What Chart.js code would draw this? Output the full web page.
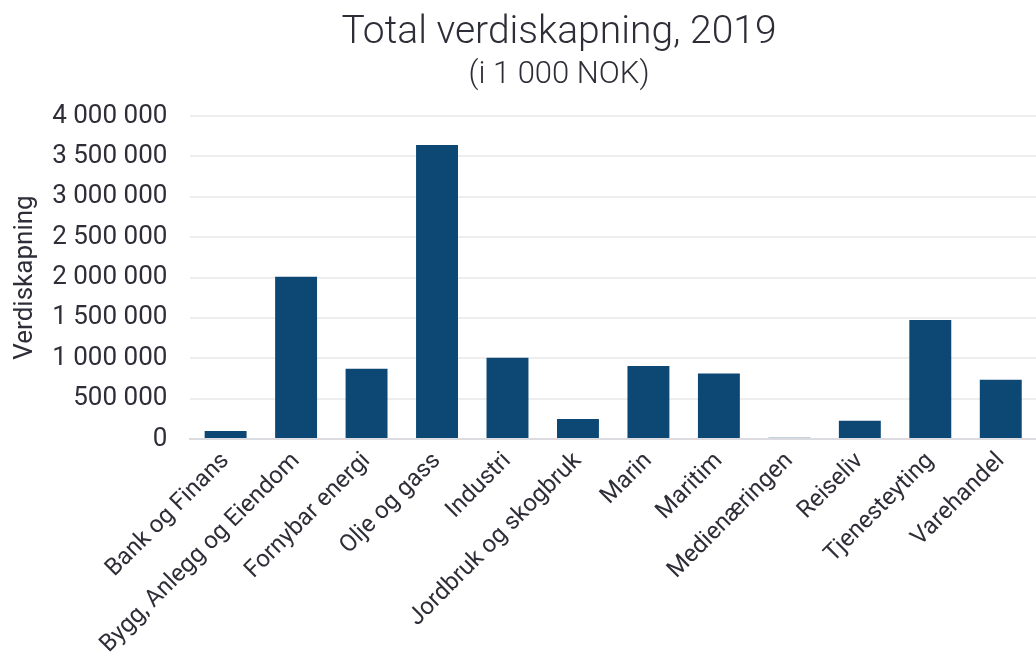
<!DOCTYPE html>
<html>
<head>
<meta charset="utf-8">
<script src="https://cdn.jsdelivr.net/npm/chart.js@4"></script>
<style>
    html, body { margin: 0; padding: 0; background: #ffffff; }
    #wrap { width: 1036px; height: 667px; }
</style>
</head>
<body>
<div id="wrap"><canvas id="myChart"></canvas></div>
<script>
const BAR_BLUE = '#0d4773';
const TEXT = '#2e2e38';
const GRID = '#eeeeee';
const SANS = "Roboto, 'Noto Sans', sans-serif";

// data (1 000 NOK)
const categories = [
    'Bank og Finans', 'Bygg, Anlegg og Eiendom', 'Fornybar energi', 'Olje og gass',
    'Industri', 'Jordbruk og skogbruk', 'Marin', 'Maritim',
    'Medienæringen', 'Reiseliv', 'Tjenesteyting', 'Varehandel'
];
const values = [
    100000, 2010000, 870000, 3640000,
    1005000, 248000, 905000, 810000,
    16000, 225000, 1475000, 735000
];
const yTicks = [0, 500000, 1000000, 1500000, 2000000, 2500000, 3000000, 3500000, 4000000];

const TITLE = 'Total verdiskapning, 2019';
const SUBTITLE = '(i 1 000 NOK)';

function formatNumber(v) {
    return String(v).replace(/\B(?=(\d{3})+(?!\d))/g, ' ');
}

// title sits a bit right of the canvas centre in the original
const shiftTitles = {
    id: 'shiftTitles',
    afterLayout(chart) {
        chart.boxes.forEach(function(b) {
            if (b.options && (b.options.text === TITLE || b.options.text === SUBTITLE)) {
                b.left += 64;
            }
        });
    }
};

var ctx = document.getElementById('myChart').getContext('2d');

var chart = new Chart(ctx, {
    type: 'bar',
    data: {
        labels: categories,
        datasets: [{
            label: 'Verdiskapning',
            data: values,
            backgroundColor: BAR_BLUE,
            borderWidth: 0,
            categoryPercentage: 1,
            barPercentage: 0.595
        }]
    },
    options: {
        animation: false,
        responsive: true,
        maintainAspectRatio: false,
        layout: {
            // plot area runs slightly past the right edge in the original
            padding: { left: 10, right: -8, top: 10, bottom: 0 }
        },
        plugins: {
            legend: { display: false },
            tooltip: { enabled: false },
            title: {
                display: true,
                text: TITLE,
                color: TEXT,
                font: { family: 'Roboto', size: 39, weight: '300' },
                padding: { top: 0, bottom: 0 }
            },
            subtitle: {
                display: true,
                text: SUBTITLE,
                color: TEXT,
                font: { family: 'Roboto', size: 31, weight: '300' },
                padding: { top: 0, bottom: 22 }
            }
        },
        scales: {
            x: {
                grid: { display: false, drawTicks: false },
                border: { color: '#dcdce0', width: 2 },
                ticks: {
                    color: TEXT,
                    font: { family: SANS, size: 24 },
                    maxRotation: 45,
                    minRotation: 45,
                    autoSkip: false,
                    padding: 8
                }
            },
            y: {
                min: 0,
                max: 4000000,
                afterBuildTicks: function(axis) {
                    axis.ticks = yTicks.map(function(v) { return { value: v }; });
                },
                afterFit: function(axis) {
                    axis.width -= 12;
                },
                grid: { color: GRID, lineWidth: 2, drawTicks: false },
                border: { display: false },
                ticks: {
                    color: TEXT,
                    font: { family: SANS, size: 26 },
                    padding: 23,
                    callback: function(v) { return formatNumber(v); }
                },
                title: {
                    display: true,
                    text: 'Verdiskapning',
                    color: TEXT,
                    font: { family: SANS, size: 26 },
                    padding: { top: 0, bottom: 0 }
                }
            }
        }
    },
    plugins: [shiftTitles]
});
</script>
</body>
</html>
